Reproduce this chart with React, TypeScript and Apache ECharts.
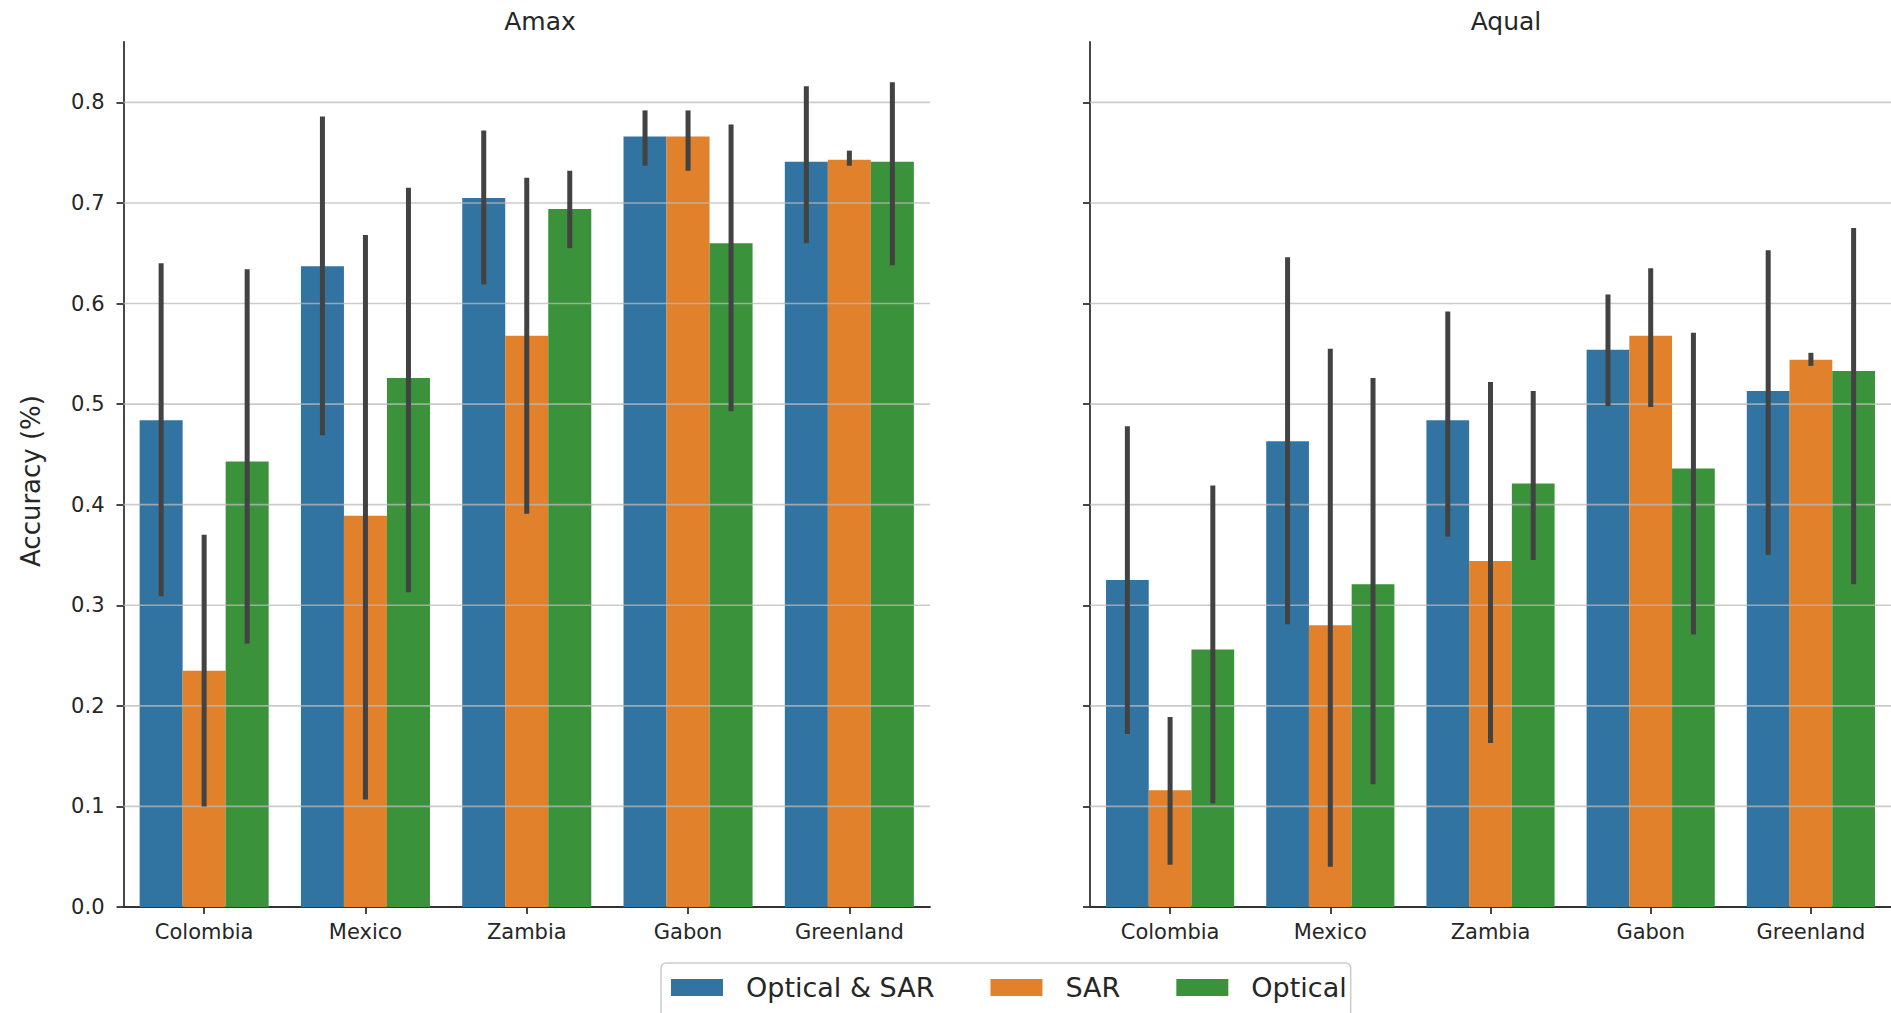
import React, { useEffect, useRef } from "react";
import * as echarts from "echarts";

const categories = ["Colombia", "Mexico", "Zambia", "Gabon", "Greenland"];
const hueNames = ["Optical & SAR", "SAR", "Optical"];
const hueColors = ["#3274a1", "#e1812c", "#3a923a"];
const panelTitles = ["Amax", "Aqual"];
const yTicks = [0, 0.1, 0.2, 0.3, 0.4, 0.5, 0.6, 0.7, 0.8];
const gridTicks = [0.1, 0.2, 0.3, 0.4, 0.5, 0.6, 0.7, 0.8];

// Amax
const amaxOptSar = [0.484, 0.637, 0.705, 0.766, 0.741];
const amaxOptSarLo = [0.309, 0.469, 0.619, 0.737, 0.66];
const amaxOptSarHi = [0.64, 0.786, 0.772, 0.792, 0.816];
const amaxSar = [0.235, 0.389, 0.568, 0.766, 0.743];
const amaxSarLo = [0.1, 0.107, 0.391, 0.732, 0.737];
const amaxSarHi = [0.37, 0.668, 0.725, 0.792, 0.752];
const amaxOpt = [0.443, 0.526, 0.694, 0.66, 0.741];
const amaxOptLo = [0.262, 0.313, 0.655, 0.493, 0.638];
const amaxOptHi = [0.634, 0.715, 0.732, 0.778, 0.82];

// Aqual
const aqualOptSar = [0.325, 0.463, 0.484, 0.554, 0.513];
const aqualOptSarLo = [0.172, 0.281, 0.368, 0.498, 0.35];
const aqualOptSarHi = [0.478, 0.646, 0.592, 0.609, 0.653];
const aqualSar = [0.116, 0.28, 0.344, 0.568, 0.544];
const aqualSarLo = [0.042, 0.04, 0.163, 0.497, 0.538];
const aqualSarHi = [0.189, 0.555, 0.522, 0.635, 0.551];
const aqualOpt = [0.256, 0.321, 0.421, 0.436, 0.533];
const aqualOptLo = [0.103, 0.122, 0.345, 0.271, 0.321];
const aqualOptHi = [0.419, 0.526, 0.513, 0.571, 0.675];

const panels = [
  {
    means: [amaxOptSar, amaxSar, amaxOpt],
    lows: [amaxOptSarLo, amaxSarLo, amaxOptLo],
    highs: [amaxOptSarHi, amaxSarHi, amaxOptHi],
  },
  {
    means: [aqualOptSar, aqualSar, aqualOpt],
    lows: [aqualOptSarLo, aqualSarLo, aqualOptLo],
    highs: [aqualOptSarHi, aqualSarHi, aqualOptHi],
  },
];

const FONT = "DejaVu Sans";
const AXIS_COLOR = "#333333";
const TEXT_COLOR = "#262626";

export default function App() {
  const ref = useRef<HTMLDivElement>(null);

  useEffect(() => {
    if (!ref.current) return;
    const chart = echarts.init(ref.current, undefined, { renderer: "svg" });

    const grids = [
      { left: 123.5, right: 961, top: 42, bottom: 106 },
      { left: 1090, right: -5.5, top: 42, bottom: 106 },
    ];

    const xAxes = grids.map((_, gi) => ({
      type: "category",
      gridIndex: gi,
      data: categories,
      axisLine: { show: true, lineStyle: { color: AXIS_COLOR, width: 1.8 } },
      axisTick: { show: true, alignWithLabel: true, length: 7, lineStyle: { color: AXIS_COLOR, width: 1.8 } },
      axisLabel: { fontSize: 21, color: TEXT_COLOR, fontFamily: FONT, margin: 14 },
      splitLine: { show: false },
    }));

    const yAxes = grids.map((_, gi) => ({
      type: "value",
      gridIndex: gi,
      min: 0,
      max: 0.86,
      interval: 0.1,
      axisLine: { show: true, lineStyle: { color: AXIS_COLOR, width: 1.8 } },
      axisTick: { show: true, length: 7, customValues: yTicks, lineStyle: { color: AXIS_COLOR, width: 1.8 } },
      axisLabel: {
        show: gi === 0,
        customValues: yTicks,
        fontSize: 21,
        color: TEXT_COLOR,
        fontFamily: FONT,
        margin: 19,
        formatter: (v: number) => v.toFixed(1),
      },
      splitLine: { show: false },
    }));

    const series: any[] = [];
    panels.forEach((p, gi) => {
      p.means.forEach((vals, hi) => {
        series.push({
          type: "bar",
          name: hueNames[hi],
          xAxisIndex: gi,
          yAxisIndex: gi,
          data: vals,
          barGap: "0%",
          barCategoryGap: "20%",
          itemStyle: { color: hueColors[hi] },
          z: 2,
        });
      });
      // gridlines on top of bars
      series.push({
        type: "custom",
        name: "grid" + gi,
        xAxisIndex: gi,
        yAxisIndex: gi,
        z: 3,
        silent: true,
        data: gridTicks.map((t) => [0, t]),
        renderItem: (params: any, api: any) => {
          const cs = params.coordSys;
          const y = api.coord([0, api.value(1)])[1];
          return {
            type: "line",
            shape: { x1: cs.x, y1: y, x2: cs.x + cs.width, y2: y },
            style: { stroke: "rgba(185,185,185,0.75)", lineWidth: 1.6 },
          };
        },
      });
      // error bars
      p.means.forEach((_, hi) => {
        series.push({
          type: "custom",
          name: "err" + gi + "_" + hi,
          xAxisIndex: gi,
          yAxisIndex: gi,
          z: 4,
          silent: true,
          data: categories.map((_, ci) => [ci, p.lows[hi][ci], p.highs[hi][ci]]),
          renderItem: (params: any, api: any) => {
            const ci = api.value(0);
            const lo = api.coord([ci, api.value(1)]);
            const hiPt = api.coord([ci, api.value(2)]);
            const band = api.size([1, 0])[0];
            const off = (hi - 1) * (band * 0.8) / 3;
            return {
              type: "line",
              shape: { x1: lo[0] + off, y1: lo[1], x2: hiPt[0] + off, y2: hiPt[1] },
              style: { stroke: "#424242", lineWidth: 5, lineCap: "butt" },
            };
          },
        });
      });
    });

    const option: any = {
      animation: false,
      backgroundColor: "#ffffff",
      textStyle: { fontFamily: FONT },
      grid: grids,
      xAxis: xAxes,
      yAxis: yAxes,
      legend: {
        data: hueNames,
        left: 661,
        top: 963,
        orient: "horizontal",
        selectedMode: false,
        itemWidth: 52,
        itemHeight: 17,
        itemGap: 56,
        padding: [11, 4, 30, 10],
        borderColor: "#cccccc",
        borderWidth: 1.5,
        borderRadius: 5,
        icon: "rect",
        textStyle: { fontSize: 27, color: TEXT_COLOR, fontFamily: FONT, padding: [0, 0, 0, 18] },
      },
      graphic: [
        {
          type: "text",
          x: 540,
          y: 21,
          style: { text: panelTitles[0], fontSize: 25, fontFamily: FONT, fill: TEXT_COLOR, textAlign: "center", textVerticalAlign: "middle" },
        },
        {
          type: "text",
          x: 1506,
          y: 21,
          style: { text: panelTitles[1], fontSize: 25, fontFamily: FONT, fill: TEXT_COLOR, textAlign: "center", textVerticalAlign: "middle" },
        },
        {
          type: "text",
          x: 31,
          y: 481,
          rotation: Math.PI / 2,
          style: { text: "Accuracy (%)", fontSize: 26, fontFamily: FONT, fill: TEXT_COLOR, textAlign: "center", textVerticalAlign: "middle" },
        },
      ],
      series,
    };

    chart.setOption(option);
    return () => chart.dispose();
  }, []);

  return (
    <div
      ref={ref}
      style={{ position: "fixed", left: 0, top: 0, width: 1891, height: 1013, background: "#fff" }}
    />
  );
}
